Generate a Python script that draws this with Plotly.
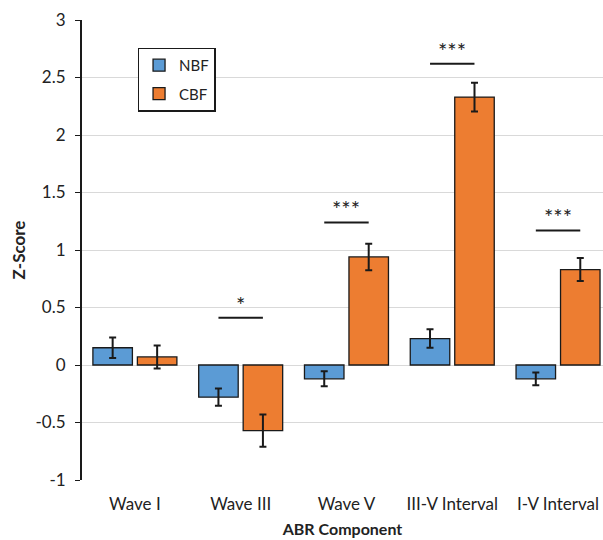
import plotly.graph_objects as go

categories = ["Wave I", "Wave III", "Wave V", "III-V Interval", "I-V Interval"]
nbf_values = [0.15, -0.28, -0.12, 0.23, -0.12]
nbf_errors = [0.09, 0.075, 0.065, 0.08, 0.055]
cbf_values = [0.07, -0.57, 0.94, 2.33, 0.83]
cbf_errors = [0.10, 0.14, 0.115, 0.125, 0.10]
sig_index = [1, 2, 3, 4]
sig_height = [0.41, 1.24, 2.62, 1.17]
sig_label = ["*", "***", "***", "***"]
y_tickvals = [-1, -0.5, 0, 0.5, 1, 1.5, 2, 2.5, 3]
y_ticktext = ["-1", "-0.5", "0", "0.5", "1", "1.5", "2", "2.5", "3"]

FONT = "Lato"
TXT = "#222222"
LINE = "#1a1a1a"
idx = list(range(len(categories)))

fig = go.Figure()
fig.add_trace(go.Bar(
    x=idx, y=nbf_values, name="NBF", legendgroup="a",
    marker=dict(color="#5B9BD5", line=dict(color=LINE, width=1.3)),
    error_y=dict(type="data", array=nbf_errors, color=LINE, thickness=2, width=3.5),
))
fig.add_trace(go.Bar(
    x=idx, y=cbf_values, name="CBF", legendgroup="b",
    marker=dict(color="#ED7D31", line=dict(color=LINE, width=1.3)),
    error_y=dict(type="data", array=cbf_errors, color=LINE, thickness=2, width=3.5),
))

off = 0.21
for i, h, lab in zip(sig_index, sig_height, sig_label):
    fig.add_trace(go.Scatter(x=[i - off, i + off], y=[h, h], mode="lines",
                             line=dict(color=LINE, width=2),
                             showlegend=False, hoverinfo="skip"))
    fig.add_annotation(x=i, y=h, text=lab, showarrow=False, yanchor="bottom",
                       yshift=-2, font=dict(family=FONT, size=22, color=TXT))

xr = [-0.5, 4.425]
fig.update_layout(
    width=603, height=540,
    margin=dict(l=82, r=0, t=20, b=60),
    paper_bgcolor="white", plot_bgcolor="white",
    barmode="group", bargap=0.159, bargroupgap=0.112,
    font=dict(family=FONT, size=17, color=TXT),
    showlegend=True,
    legend=dict(x=0.107, y=0.94, xanchor="left", yanchor="top",
                bordercolor=LINE, borderwidth=1.3, bgcolor="white",
                font=dict(family=FONT, size=15, color=TXT),
                itemwidth=30, tracegroupgap=6),
    xaxis=dict(range=xr, tickvals=idx, ticktext=categories, ticks="",
               showgrid=False, showline=False, zeroline=False,
               ticklabelstandoff=12,
               title=dict(text="<b>ABR Component</b>", font=dict(size=16), standoff=10),
               tickfont=dict(size=17)),
    xaxis2=dict(overlaying="x", anchor="free", position=0.25, range=xr,
                showline=True, linecolor=LINE, linewidth=1.5,
                tickvals=[0.5, 1.5, 2.5, 3.5], ticks="outside", ticklen=6,
                tickcolor=LINE, tickwidth=1.3, showticklabels=False,
                showgrid=False, zeroline=False),
    yaxis=dict(range=[-1, 3], tickvals=y_tickvals, ticktext=y_ticktext,
               showgrid=True, gridcolor="#d9d9d9", gridwidth=1,
               zeroline=False, showline=True, linecolor=LINE, linewidth=2,
               ticks="outside", ticklen=5, tickcolor=LINE, tickwidth=1.3,
               ticklabelstandoff=6,
               tickfont=dict(size=17),
               title=dict(text="<b>Z-Score</b>", font=dict(size=17), standoff=6)),
)

fig.write_html("out.html", config={"displayModeBar": False},
               post_script="document.body.style.margin='0';document.body.style.padding='0';")
